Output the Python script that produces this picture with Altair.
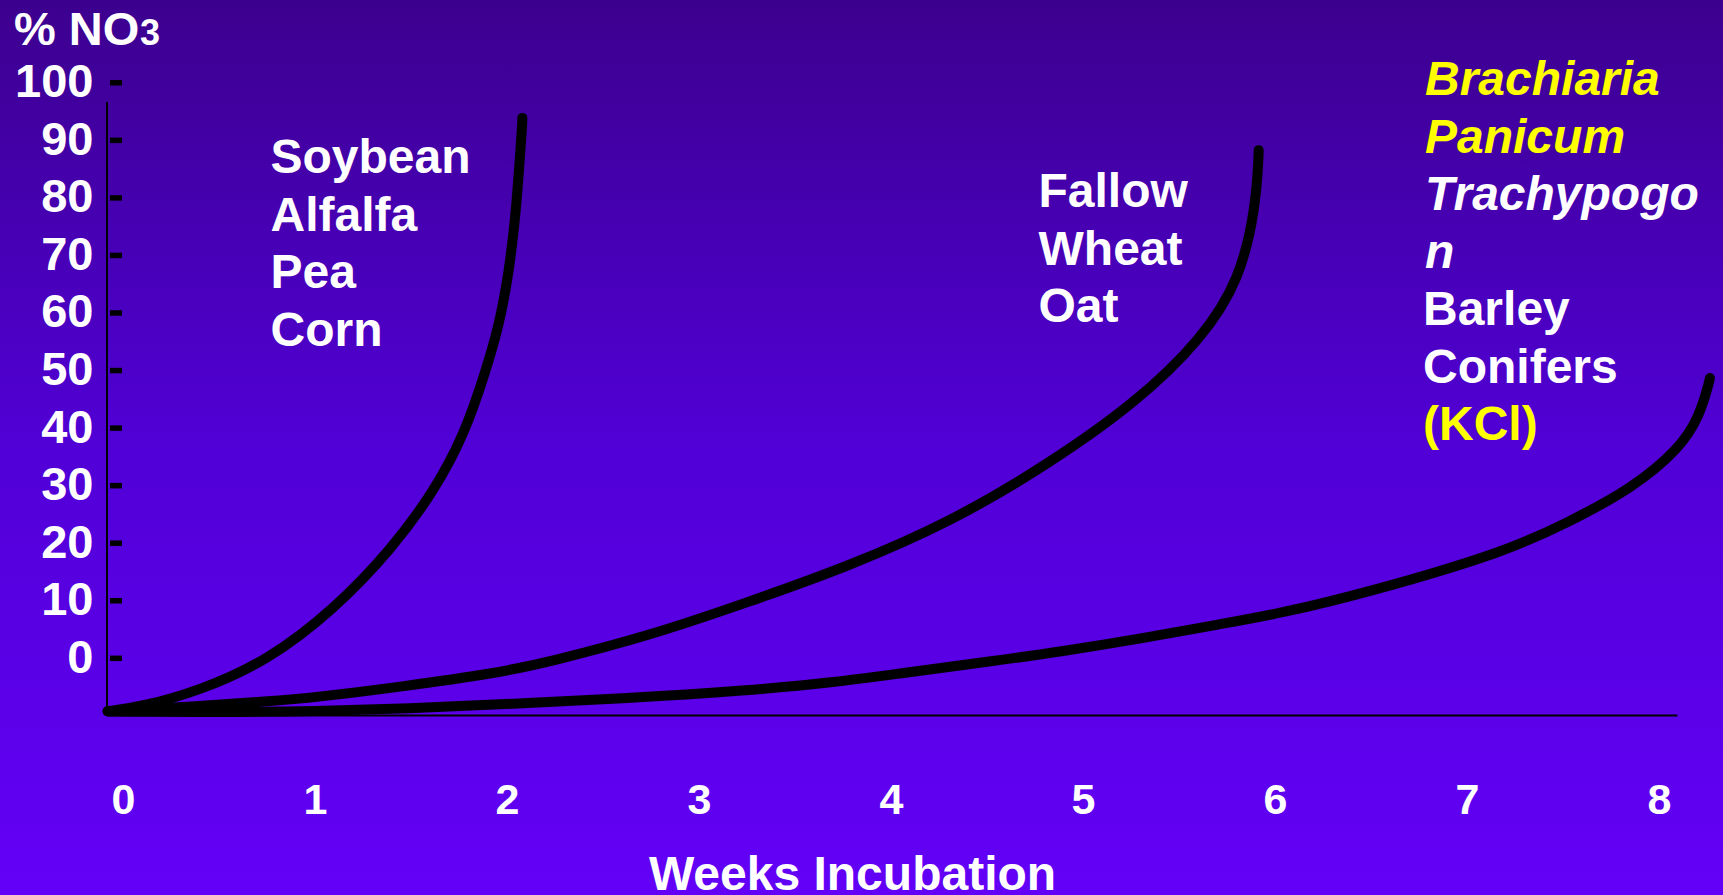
import altair as alt
import pandas as pd

# ---- data -------------------------------------------------------------
weeks_ticks = [0, 1, 2, 3, 4, 5, 6, 7, 8]
pct_ticks = [0, 10, 20, 30, 40, 50, 60, 70, 80, 90, 100]

# nitrification curves: (weeks, % NO3)
legume_weeks = [-0.08, 0.1, 0.4, 0.75, 1.1, 1.4, 1.62, 1.78, 1.89, 1.96, 2.01, 2.045, 2.065, 2.08, 2.08]
legume_pct = [-9.2, -8.4, -5.6, -0.5, 8.5, 19.0, 29.0, 39.0, 50.0, 58.0, 67.0, 77.0, 86.0, 93.0, 93.9]

fallow_weeks = [-0.08, 0.4, 0.75, 1.0, 1.44, 1.96, 2.22, 2.74, 3.26, 3.78, 4.3, 4.81, 5.28, 5.62, 5.82, 5.9, 5.915, 5.915]
fallow_pct = [-9.2, -8.3, -7.5, -6.8, -5.0, -2.5, -0.6, 3.9, 9.8, 16.0, 23.5, 33.5, 44.5, 55.5, 66.0, 78.5, 87.5, 88.3]

grass_weeks = [-0.08, 0.5, 1.0, 1.5, 1.96, 2.6, 3.26, 3.7, 4.05, 4.55, 4.87, 5.3, 5.69, 6.03, 6.5, 7.2, 7.52, 7.86, 8.11, 8.21, 8.26, 8.265]
grass_pct = [-9.2, -9.4, -9.2, -8.7, -8.0, -7.0, -5.6, -4.2, -2.6, -0.4, 1.1, 3.4, 5.8, 7.8, 11.6, 18.5, 23.5, 29.5, 36.5, 42.0, 47.8, 48.7]

legume_names = ["Soybean", "Alfalfa", "Pea", "Corn"]
fallow_names = ["Fallow", "Wheat", "Oat"]
grass_italic_yellow = ["Brachiaria", "Panicum"]
grass_italic_white = ["Trachypogo", "n"]
grass_plain_white = ["Barley", "Conifers"]
grass_plain_yellow = ["(KCl)"]

x_title = "Weeks Incubation"
y_title_main = "% NO"
y_title_sub = "3"

# ---- tables -----------------------------------------------------------
curves = pd.concat([
    pd.DataFrame({"weeks": legume_weeks, "pct": legume_pct, "group": "legumes"}),
    pd.DataFrame({"weeks": fallow_weeks, "pct": fallow_pct, "group": "fallow"}),
    pd.DataFrame({"weeks": grass_weeks, "pct": grass_pct, "group": "grasses"}),
], ignore_index=True)
curves["order"] = range(len(curves))
ticks_df = pd.DataFrame({"pct": pct_ticks})

FONT = "Liberation Sans"
W, H = 1570, 655

x_scale = alt.Scale(domain=[-0.0833, 8.0938], nice=False, zero=False)
y_scale = alt.Scale(domain=[-9.85, 103.96], nice=False, zero=False)

x_axis = alt.Axis(
    values=weeks_ticks, title=x_title, grid=False, ticks=False,
    domain=True, domainColor="black", domainWidth=2,
    labelFont=FONT, labelFontSize=43, labelFontWeight="bold", labelColor="white",
    labelBaseline="alphabetic", labelPadding=98, labelFlush=False,
    titleFont=FONT, titleFontSize=48, titleFontWeight="bold", titleColor="white",
    titleX=745, titleY=174, titleBaseline="alphabetic", titleAlign="center",
    zindex=1,
)
y_axis = alt.Axis(
    values=pct_ticks, title=None, grid=False, ticks=False, domain=False,
    labelFont=FONT, labelFontSize=47, labelFontWeight="bold", labelColor="white",
    labelPadding=14, labelBaseline="middle", labelFlush=False,
    zindex=1,
)

# slide-style gradient background spanning the whole canvas
background = alt.Chart(pd.DataFrame({"k": [0]})).mark_rect(
    fill=alt.Gradient(
        gradient="linear",
        stops=[alt.GradientStop(color="#3C008E", offset=0),
               alt.GradientStop(color="#5100D6", offset=0.5),
               alt.GradientStop(color="#6300F7", offset=1)],
        x1=0, x2=0, y1=0, y2=1,
    )
).encode(
    x=alt.value(-107), x2=alt.value(W + 46), y=alt.value(-60), y2=alt.value(H + 180)
)

lines = alt.Chart(curves).mark_line(
    color="black", strokeWidth=10, strokeCap="round", strokeJoin="round",
    interpolate="basis",
).encode(
    x=alt.X("weeks:Q", scale=x_scale, axis=x_axis),
    y=alt.Y("pct:Q", scale=y_scale, axis=y_axis),
    detail="group:N",
    order="order:Q",
)

tick_marks = alt.Chart(ticks_df).mark_rule(color="black", strokeWidth=5.5).encode(
    y=alt.Y("pct:Q", scale=y_scale),
    x=alt.value(3), x2=alt.value(15),
)

v_axis_line = alt.Chart(pd.DataFrame({"k": [0]})).mark_rule(color="black", strokeWidth=2).encode(
    x=alt.value(0), y=alt.value(42), y2=alt.value(H),
)


def text_block(lines_, x, y, color, style="normal", size=48):
    return alt.Chart(pd.DataFrame({"k": [0]})).mark_text(
        text=lines_, font=FONT, fontSize=size, fontWeight="bold", fontStyle=style,
        color=color, align="left", baseline="alphabetic", lineHeight=57.5,
    ).encode(x=alt.value(x), y=alt.value(y))


labels = [
    text_block(legume_names, 163.5, 113, "white"),
    text_block(fallow_names, 931.5, 147, "white"),
    text_block(grass_italic_yellow, 1318, 35, "#FFFF00", "italic"),
    text_block(grass_italic_white, 1318, 150, "white", "italic"),
    text_block(grass_plain_white, 1316, 265, "white"),
    text_block(grass_plain_yellow, 1316, 380, "#FFFF00"),
    text_block([y_title_main], -93, -15, "white", size=47),
    text_block([y_title_sub], 33, -15, "white", size=36),
]

chart = alt.layer(background, v_axis_line, tick_marks, lines, *labels).properties(
    width=W, height=H,
    autosize=alt.AutoSizeParams(type="none"),
    padding={"left": 107, "top": 60, "right": 46, "bottom": 180},
).configure_view(strokeWidth=0)

chart.save("out.html", embed_options={"renderer": "svg", "actions": False})
